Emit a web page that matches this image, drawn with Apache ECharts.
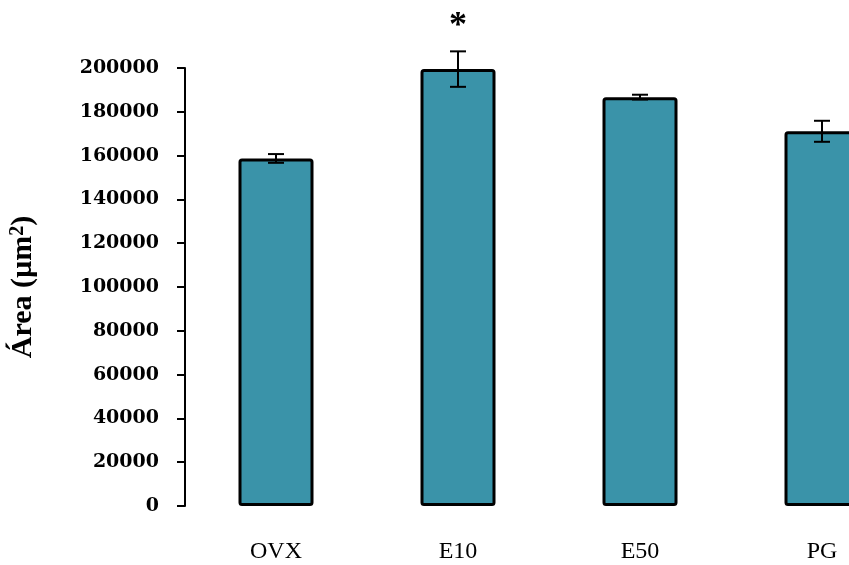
<!DOCTYPE html>
<html>
<head>
<meta charset="utf-8">
<script src="https://cdn.jsdelivr.net/npm/echarts@6/dist/echarts.min.js"></script>
<style>
html,body{margin:0;padding:0;background:#fff;}
#chart{width:849px;height:565px;}
</style>
</head>
<body>
<div id="chart"></div>
<script>
var categories = ['OVX', 'E10', 'E50', 'PG'];
var areaMeans = [158700, 199500, 186700, 171100];
var areaErrors = [2000, 8100, 1100, 4800];
var significance = ['', '*', '', ''];
var yTicks = {min: 0, max: 200000, interval: 20000};

var chart = echarts.init(document.getElementById('chart'), null, {renderer: 'canvas'});

var errData = categories.map(function (c, i) {
  return [i, areaMeans[i], areaErrors[i]];
});

var option = {
  animation: false,
  backgroundColor: '#ffffff',
  grid: {left: 185, top: 68, right: -64, bottom: 59, containLabel: false, outerBoundsMode: 'none'},
  xAxis: {
    type: 'category',
    data: categories,
    axisLine: {show: false},
    axisTick: {show: false},
    axisLabel: {
      color: '#000',
      fontFamily: 'Liberation Serif',
      fontSize: 24,
      margin: 34
    }
  },
  yAxis: {
    type: 'value',
    min: yTicks.min,
    max: yTicks.max,
    interval: yTicks.interval,
    name: 'Área (µm{sup|2})',
    nameLocation: 'middle',
    nameGap: 147,
    nameRotate: 90,
    nameTextStyle: {
      color: '#000',
      fontFamily: 'Liberation Serif',
      fontWeight: 'bold',
      fontSize: 30,
      rich: {
        sup: {fontFamily: 'Liberation Serif', fontWeight: 'bold', fontSize: 20, verticalAlign: 'top', color: '#000'}
      }
    },
    axisLine: {show: true, lineStyle: {color: '#000', width: 2}},
    axisTick: {show: true, inside: false, length: 8, lineStyle: {color: '#000', width: 2}},
    splitLine: {show: false},
    axisLabel: {
      color: '#000',
      fontFamily: 'DejaVu Serif',
      fontWeight: 'bold',
      fontSize: 19,
      margin: 26,
      formatter: function (v) { return String(v); }
    }
  },
  series: [
    {
      type: 'bar',
      data: areaMeans,
      barWidth: 75,
      itemStyle: {
        color: '#3a93a9',
        borderColor: '#000',
        borderWidth: 3,
        borderRadius: 2
      }
    },
    {
      type: 'custom',
      data: errData,
      encode: {x: 0, y: 1},
      z: 5,
      renderItem: function (params, api) {
        var i = api.value(0);
        var m = api.value(1);
        var e = api.value(2);
        var top = api.coord([i, m + e]);
        var bot = api.coord([i, m - e]);
        var cw = 8;
        var st = {stroke: '#000', lineWidth: 2};
        var children = [
          {type: 'line', shape: {x1: top[0], y1: top[1], x2: bot[0], y2: bot[1]}, style: st},
          {type: 'line', shape: {x1: top[0] - cw, y1: top[1], x2: top[0] + cw, y2: top[1]}, style: st},
          {type: 'line', shape: {x1: bot[0] - cw, y1: bot[1], x2: bot[0] + cw, y2: bot[1]}, style: st}
        ];
        var s = significance[params.dataIndex];
        if (s) {
          children.push({
            type: 'text',
            x: top[0],
            y: top[1] - 25,
            style: {
              text: s,
              fill: '#000',
              font: 'bold 36px "Liberation Serif"',
              align: 'center',
              verticalAlign: 'middle'
            }
          });
        }
        return {type: 'group', children: children};
      }
    }
  ]
};
chart.setOption(option);
</script>
</body>
</html>
